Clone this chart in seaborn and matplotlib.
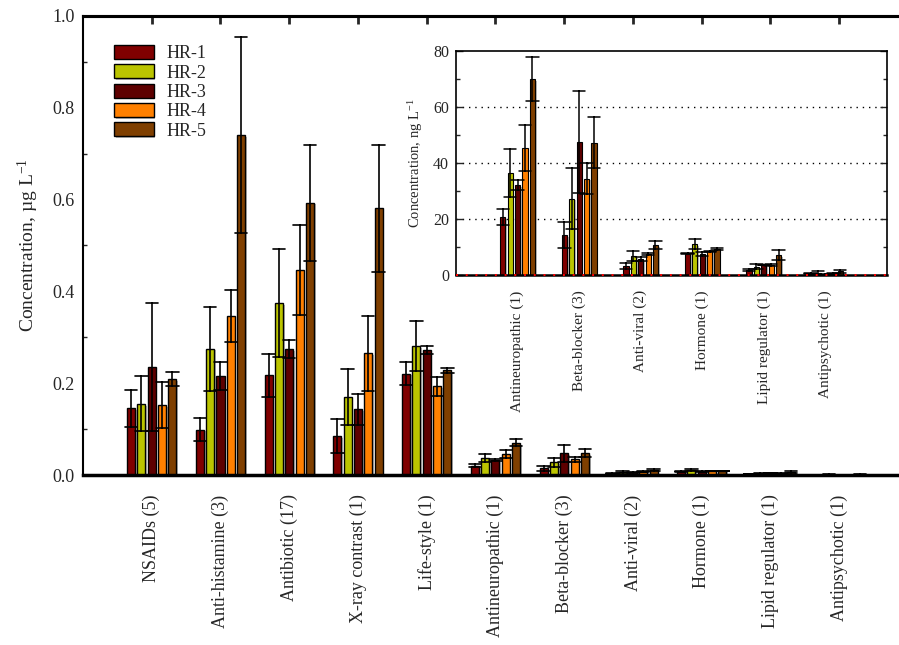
import numpy as np
import pandas as pd
import seaborn as sns
import matplotlib
matplotlib.use("Agg")
import matplotlib.pyplot as plt
from matplotlib.ticker import MultipleLocator
import matplotlib.patheffects as pe

# ---------------- data ----------------
categories = ["NSAIDs (5)", "Anti-histamine (3)", "Antibiotic (17)", "X-ray contrast (1)",
              "Life-style (1)", "Antineuropathic (1)", "Beta-blocker (3)", "Anti-viral (2)",
              "Hormone (1)", "Lipid regulator (1)", "Antipsychotic (1)"]
inset_categories = categories[5:]
series = ["HR-1", "HR-2", "HR-3", "HR-4", "HR-5"]
colors = ["#800000", "#BBC400", "#5E0000", "#FF8000", "#7F3F00"]

# first five classes, µg/L
hr1_main = [0.145, 0.099, 0.217, 0.084, 0.221]
hr2_main = [0.155, 0.275, 0.374, 0.170, 0.281]
hr3_main = [0.235, 0.216, 0.274, 0.143, 0.272]
hr4_main = [0.152, 0.346, 0.446, 0.265, 0.193]
hr5_main = [0.209, 0.741, 0.593, 0.581, 0.228]
hr1_main_err = [0.041, 0.025, 0.046, 0.037, 0.026]
hr2_main_err = [0.060, 0.092, 0.118, 0.060, 0.054]
hr3_main_err = [0.139, 0.031, 0.020, 0.033, 0.009]
hr4_main_err = [0.050, 0.057, 0.098, 0.081, 0.020]
hr5_main_err = [0.015, 0.214, 0.127, 0.139, 0.006]

# remaining six classes, ng/L (inset)
hr1_ng = [20.6, 14.2, 3.1, 7.6, 1.8, 0.5]
hr2_ng = [36.3, 27.3, 6.7, 11.0, 3.0, 0.7]
hr3_ng = [32.1, 47.5, 5.7, 7.6, 3.5, 0.2]
hr4_ng = [45.4, 34.4, 7.5, 8.5, 3.5, 0.6]
hr5_ng = [70.0, 47.3, 10.7, 9.4, 7.0, 1.3]
hr1_ng_err = [2.9, 4.6, 1.1, 0.2, 0.3, 0.1]
hr2_ng_err = [8.6, 10.8, 1.8, 1.7, 0.8, 0.6]
hr3_ng_err = [1.9, 18.1, 0.8, 0.7, 0.1, 0.1]
hr4_ng_err = [8.1, 5.5, 0.3, 0.2, 0.4, 0.1]
hr5_ng_err = [7.7, 9.0, 1.3, 0.3, 1.8, 0.5]

main_vals = [hr1_main, hr2_main, hr3_main, hr4_main, hr5_main]
main_errs = [hr1_main_err, hr2_main_err, hr3_main_err, hr4_main_err, hr5_main_err]
ng_vals = [hr1_ng, hr2_ng, hr3_ng, hr4_ng, hr5_ng]
ng_errs = [hr1_ng_err, hr2_ng_err, hr3_ng_err, hr4_ng_err, hr5_ng_err]


def long_rows(cats, vals, errs, scale=1.0):
    rows = []
    for s, v_list, e_list in zip(series, vals, errs):
        for c, v, e in zip(cats, v_list, e_list):
            for sign in (-1, 1):
                rows.append({"category": c, "series": s, "value": (v + sign * e) * scale})
    return rows


df_main = pd.DataFrame(
    long_rows(categories[:5], main_vals, main_errs)
    + long_rows(inset_categories, ng_vals, ng_errs, scale=0.001)
)
df_inset = pd.DataFrame(long_rows(inset_categories, ng_vals, ng_errs))

# ---------------- style ----------------
sns.set_style("white")
plt.rcParams["font.family"] = ["Liberation Serif", "DejaVu Serif"]
plt.rcParams["mathtext.fontset"] = "custom"
plt.rcParams["mathtext.rm"] = "Liberation Serif"
plt.rcParams["mathtext.default"] = "regular"

fig = plt.figure(figsize=(8.99, 6.45), dpi=100)
ax = fig.add_axes([83 / 899, 1 - 475 / 645, 1 - 83 / 899, (475 - 16) / 645])

minmax = lambda v: (v.min(), v.max())
shadow = [pe.SimplePatchShadow(offset=(1.2, -1.2), shadow_rgbFace="0.55", alpha=0.6), pe.Normal()]

sns.barplot(data=df_main, x="category", y="value", hue="series", order=categories,
            hue_order=series, palette=colors, saturation=1, estimator="mean",
            errorbar=minmax, width=0.75, gap=0.22, capsize=0.9,
            err_kws={"color": "black", "linewidth": 1.2},
            edgecolor="black", linewidth=1.0, ax=ax)
for p in ax.patches:
    p.set_path_effects(shadow)

ax.set_xlim(-1, 10.87)
ax.set_ylim(0, 1.0)
ax.yaxis.set_major_locator(MultipleLocator(0.2))
ax.yaxis.set_minor_locator(MultipleLocator(0.1))
ax.yaxis.set_major_formatter(matplotlib.ticker.FormatStrFormatter("%.1f"))
ax.tick_params(axis="y", which="major", direction="in", length=6, width=1.3, labelsize=13, pad=6)
ax.tick_params(axis="y", which="minor", direction="in", length=3, width=1.0, left=True)
ax.tick_params(axis="x", direction="out", length=6, width=2, labelsize=13, pad=8)
plt.setp(ax.get_xticklabels(), rotation=90)
ax.set_xlabel("")
ax.set_ylabel("Concentration, µg L$^{-1}$", fontsize=14, labelpad=8)
ax.spines["right"].set_visible(False)
for side, lw in (("left", 1.5), ("bottom", 2.5), ("top", 2.2)):
    ax.spines[side].set_linewidth(lw)
    ax.spines[side].set_color("black")

top = ax.secondary_xaxis("top")
top.set_xticks(range(len(categories)))
top.set_xticklabels([])
top.tick_params(direction="in", length=6, width=2)
top.spines["top"].set_linewidth(2.2)

handles, labels = ax.get_legend_handles_labels()
ax.legend(handles, labels, loc="upper left", bbox_to_anchor=(114 / 899, 1 - 45 / 645),
          bbox_transform=fig.transFigure, frameon=False, fontsize=13,
          handlelength=2.2, handleheight=0.8, labelspacing=0.12, handletextpad=0.7,
          borderpad=0, borderaxespad=0)

# ---------------- inset ----------------
ax2 = fig.add_axes([456 / 899, 1 - 275 / 645, (887 - 456) / 899, (275 - 51) / 645])
sns.barplot(data=df_inset, x="category", y="value", hue="series", order=inset_categories,
            hue_order=series, palette=colors, saturation=1, estimator="mean",
            errorbar=minmax, width=0.6, gap=0.3, capsize=1.0,
            err_kws={"color": "black", "linewidth": 1.1},
            edgecolor="black", linewidth=0.8, ax=ax2, legend=False)
for p in ax2.patches:
    p.set_path_effects(shadow)

ax2.set_xlim(-1, 6)
ax2.set_ylim(0, 80)
ax2.yaxis.set_major_locator(MultipleLocator(20))
ax2.yaxis.set_minor_locator(MultipleLocator(10))
for y in (20, 40, 60):
    ax2.axhline(y, color="black", linestyle=(0, (1, 3.5)), linewidth=1.0, zorder=0)
ax2.axhline(0, color="red", linestyle=(0, (1, 4)), linewidth=1.4, zorder=5, clip_on=False)
ax2.tick_params(axis="y", which="major", direction="in", length=5, width=1.0,
                labelsize=11.5, left=True, right=True, pad=5)
ax2.tick_params(axis="y", which="minor", direction="in", length=3, width=1.0, left=True, right=True)
ax2.tick_params(axis="x", direction="out", length=5, width=1.5, labelsize=11, pad=6)
plt.setp(ax2.get_xticklabels(), rotation=90)
ax2.set_xlabel("")
ax2.set_ylabel("Concentration, ng L$^{-1}$", fontsize=10.5, labelpad=6)
for side in ("left", "right", "top"):
    ax2.spines[side].set_linewidth(1.2)
    ax2.spines[side].set_color("black")
ax2.spines["bottom"].set_linewidth(1.8)
ax2.spines["bottom"].set_color("black")
ax2.patch.set_alpha(1)

fig.savefig("out.png", dpi=100)
